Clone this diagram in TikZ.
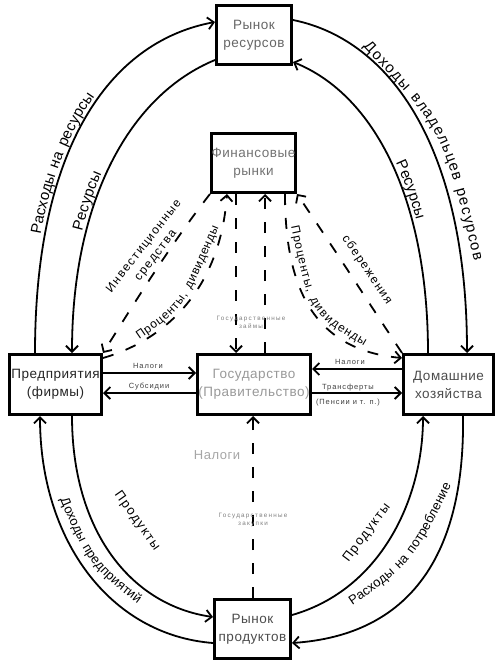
\documentclass[tikz,border=0pt]{standalone}
\usepackage{fontspec}
\setmainfont{Liberation Sans}
\newfontfamily\boxf{Liberation Sans}[LetterSpace=4]
\newfontfamily\lblf{Liberation Sans}[LetterSpace=12]
\newfontfamily\tinyf{Liberation Sans}[LetterSpace=20]
\usetikzlibrary{arrows.meta,decorations.text}
\newcommand{\lblbig}{\lblf\fontsize{15}{15}\selectfont}
\newcommand{\lblmid}{\lblf\fontsize{13}{13}\selectfont}
\newcommand{\lbldash}{\lblf\fontsize{12}{15}\selectfont}
\begin{document}
\begin{tikzpicture}[x=1pt,y=-1pt,
  box/.style={draw=black, line width=3pt, fill=white, inner sep=0pt, align=center,
    font=\boxf\fontsize{13.5}{18}\selectfont},
  flow/.style={line width=1.8pt, -{Straight Barb[length=6pt,width=12pt]}},
  dflow/.style={flow, dash pattern=on 11pt off 13pt},
  small/.style={font=\lblf\fontsize{7.5}{9}\selectfont, text=black!75, inner sep=0pt},
  tiny/.style={font=\tinyf\fontsize{6.3}{8}\selectfont, text=black!50, inner sep=0pt, align=center},
  clabel/.style={decorate, decoration={text along path, raise=4pt, text align={left indent=#1}}},
  mlabel/.style={decorate, decoration={text along path, raise=-4pt, text align=center}},
  flabel/.style={decorate, decoration={text along path, raise=-4pt, text align={fit to path}}}
]
\useasboundingbox[fill=white] (0,0) rectangle (502,668);

% boxes
\node[box, minimum width=75pt, minimum height=59pt, text=black!60] (rres) at (254,35) {Рынок\\ресурсов};
\node[box, minimum width=84pt, minimum height=59pt, text=black!55] (fin) at (253.5,163) {Финансовые\\рынки};
\node[box, minimum width=92pt, minimum height=60pt, text=black!85] (pred) at (55.5,384.5) {Предприятия\\(фирмы)};
\node[box, minimum width=113pt, minimum height=60pt, text=black!40] (gos) at (254,384.5) {Государство\\(Правительство)};
\node[box, minimum width=90pt, minimum height=60pt, text=black!70] (dom) at (448.5,384.5) {Домашние\\хозяйства};
\node[box, minimum width=76pt, minimum height=59pt, text=black!70] (rprod) at (252.5,629) {Рынок\\продуктов};

% upper outer / inner loops
\draw[flow] ([xshift=27pt]pred.north west) .. controls (35,150) and (108,42) .. ([yshift=-18pt]rres.north west);
\draw[flow] ([yshift=6pt]rres.south west) .. controls (130,95) and (72,200) .. ([xshift=64pt]pred.north west);
\draw[flow] ([yshift=-16pt]rres.north east) .. controls (392,40) and (467,150) .. ([xshift=-28pt]dom.north east);
\draw[flow] ([xshift=26pt]dom.north west) .. controls (428,200) and (375,95) .. ([yshift=4pt]rres.south east);

% lower loops
\draw[flow] ([yshift=-45pt]rprod.north west) .. controls (110,635) and (40,540) .. ([xshift=32pt]pred.south west);
\draw[flow] ([xshift=64pt]pred.south west) .. controls (72,530) and (130,605) .. ([yshift=-19pt]rprod.north west);
\draw[flow] ([yshift=-17pt]rprod.north east) .. controls (380,590) and (423,500) .. ([xshift=21pt]dom.south west);
\draw[flow] ([xshift=-32pt]dom.south east) .. controls (465,555) and (410,635) .. ([yshift=-45pt]rprod.north east);

% horizontal flows
\draw[flow] ([yshift=11.5pt]pred.east) -- ([yshift=11.5pt]gos.west);
\draw[flow] ([yshift=-8.5pt]gos.west) -- ([yshift=-8.5pt]pred.east);
\draw[flow] ([yshift=15.5pt]dom.west) -- ([yshift=15.5pt]gos.east);
\draw[flow] ([yshift=-8.5pt]gos.east) -- ([yshift=-8.5pt]dom.west);

% dashed financial flows
\draw[dflow] (fin.south west) .. controls (170,245) and (130,310) .. (pred.north east);
\draw[dflow] ([yshift=-5pt]pred.north east) .. controls (165,340) and (220,290) .. ([xshift=17pt]fin.south west);
\draw[dflow] ([xshift=-12pt]fin.south east) .. controls (285,290) and (315,350) .. ([yshift=-5pt]dom.north west);
\draw[dflow] (dom.north west) .. controls (367,300) and (333,247) .. (fin.south east);
\draw[dflow] ([xshift=26pt]fin.south west) -- ([xshift=40pt]gos.north west);
\draw[dflow] ([xshift=69pt]gos.north west) -- ([xshift=55pt]fin.south west);
\draw[dflow] ([xshift=0.5pt]rprod.north) -- ([xshift=-1pt]gos.south);

% curved labels
\path[clabel=118pt, decoration={text={|\lblbig|Расходы на ресурсы}}]
  ([xshift=27pt]pred.north west) .. controls (35,150) and (108,42) .. ([yshift=-18pt]rres.north west);
\path[clabel=122pt, decoration={text={|\lblbig|Ресурсы}}]
  ([xshift=64pt]pred.north west) .. controls (72,200) and (130,95) .. ([yshift=6pt]rres.south west);
\path[flabel, decoration={text={|\lblbig|Доходы владельцев ресурсов}}]
  (366,44) .. controls (446,128) .. (478,260);
\path[clabel=146pt, decoration={text={|\lblbig|Ресурсы}}]
  ([yshift=4pt]rres.south east) .. controls (375,95) and (428,200) .. ([xshift=26pt]dom.north west);
\path[mlabel, decoration={text={|\lblmid|Доходы предприятий}}]
  (59,487) .. controls (92,564) .. (150,608);
\path[mlabel, decoration={text={|\lblmid|Расходы на потребление}}]
  (332,614) .. controls (410,562) .. (457,464);
\path[flabel, decoration={text={|\lbldash|Проценты, дивиденды}}]
  (137,336) .. controls (181,306) .. (215,226);
\path[flabel, decoration={text={|\lbldash|Проценты, дивиденды}}]
  (295,226) .. controls (313,311) .. (366,343);

% straight labels
\node[font=\lbldash, align=center, rotate=52, inner sep=0pt] (linv) at (150,251) {Инвестиционные\\средства};
\node[font=\lbldash, rotate=-56, inner sep=0pt] (lsav) at (367,270) {сбережения};
\node[font=\lblmid, rotate=-55, inner sep=0pt] (lprodl) at (137,521) {Продукты};
\node[font=\lblmid, rotate=53, inner sep=0pt] (lprodr) at (367,533) {Продукты};

\node[small] (ltax1) at (148,366) {Налоги};
\node[small] (lsub) at (149,386.5) {Субсидии};
\node[small] (ltax2) at (350,362) {Налоги};
\node[small] (ltr) at (348,388) {Трансферты};
\node[small] (lpen) at (348,402.5) {(Пенсии и т. п.)};
\node[tiny] (lloan) at (251,322) {Государственные\\займы};
\node[tiny] (lpurch) at (253,520) {Государственные\\закупки};
\node[font=\boxf\fontsize{13}{13}\selectfont, text=black!35, inner sep=0pt] (ltax3) at (217,455) {Налоги};
\end{tikzpicture}
\end{document}
